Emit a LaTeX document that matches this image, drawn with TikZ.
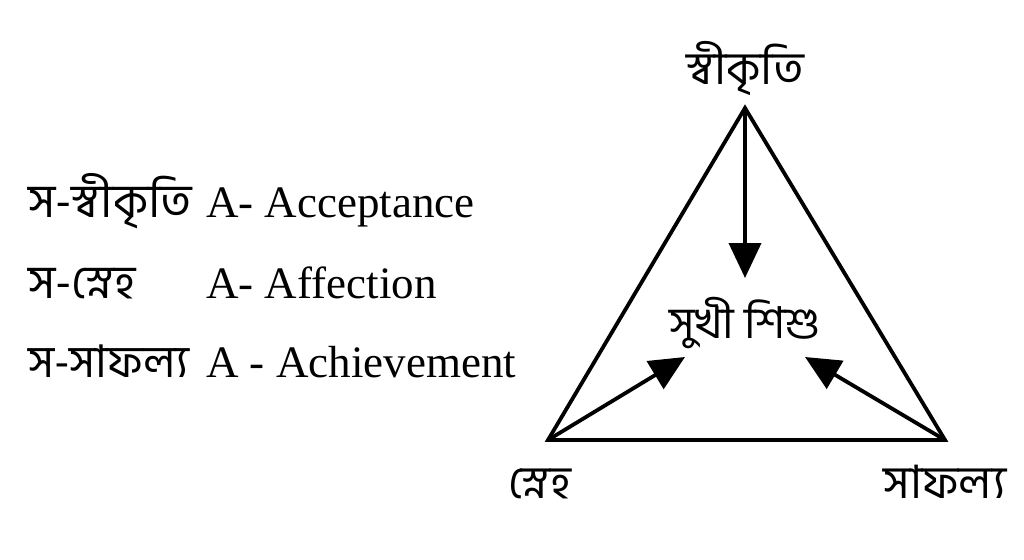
\documentclass[tikz,border=0pt]{standalone}
\usepackage{fontspec}
\setmainfont{Liberation Serif}
\newfontfamily\bn[Script=Bengali]{Hind Siliguri}
\usetikzlibrary{arrows.meta}
\begin{document}
\begin{tikzpicture}[x=1pt,y=-1pt,
  lat/.style={anchor=base west,inner sep=0pt,font=\fontsize{45}{50}\selectfont},
  bng/.style={anchor=base,inner sep=0pt,font=\bn\fontsize{46}{50}\selectfont},
  edge/.style={line width=3.8pt},
  arr/.style={line width=3.8pt,-{Triangle[length=35pt,width=32pt]}}]
\useasboundingbox (0,0) rectangle (1024,559);
% left legend
\node[bng,anchor=base west,font=\bn\fontsize{47}{50}\selectfont] (b1) at (28,217) {স-স্বীকৃতি};
\node[bng,anchor=base west,font=\bn\fontsize{47}{50}\selectfont] (b2) at (28,298) {স-স্নেহ};
\node[bng,anchor=base west,font=\bn\fontsize{45}{50}\selectfont] (b3) at (28,377) {স-সাফল্য};
\node[lat] (l1) at (206,217) {A- Acceptance};
\node[lat] (l2) at (206,298) {A- Affection};
\node[lat] (l3) at (206,377) {A - Achievement};
% triangle
\coordinate (t) at (745,108);
\coordinate (bl) at (548,440);
\coordinate (br) at (945,440);
\draw[edge] (t) -- (bl) -- (br) -- cycle;
\coordinate (ta) at (745,278);
\coordinate (la) at (685,357);
\coordinate (ra) at (805,357);
\draw[arr] (t) -- (ta);
\draw[arr] (bl) -- (la);
\draw[arr] (br) -- (ra);
% labels
\node[bng,font=\bn\fontsize{44}{50}\selectfont] (c) at (745,338) {সুখী শিশু};
\node[bng] (tl) at (745,85) {স্বীকৃতি};
\node[bng] (bll) at (540,498) {স্নেহ};
\node[bng] (brl) at (945,498) {সাফল্য};
\end{tikzpicture}
\end{document}
